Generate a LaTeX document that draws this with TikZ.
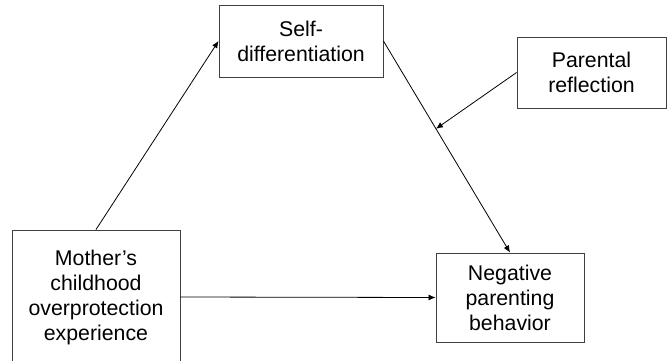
\documentclass[tikz,border=0pt]{standalone}
\usepackage{fontspec}
\setmainfont{Liberation Sans}
\usepackage{tikz}
\usetikzlibrary{arrows.meta}

\begin{document}
\begin{tikzpicture}[
		x=1pt, y=-1pt,
		every node/.style={rectangle, draw=black!75, line width=0.9pt, align=center, inner sep=0pt,
			font=\fontsize{21.3}{25}\selectfont},
		link/.style={-{Latex[length=7pt, width=6pt]}, line width=0.8pt}
	]
  \useasboundingbox (0,0) rectangle (672,361);
  \node (mother) [minimum width=168pt, minimum height=134pt] at (96, 297) {Mother’s\\childhood\\overprotection\\experience};
  \node (selfdiff) [minimum width=164pt, minimum height=72pt] at (301, 41) {Self-\\differentiation};
  \node (parental) [minimum width=149pt, minimum height=71pt] at (591.5, 72.5) {Parental\\reflection};
  \node (negative) [minimum width=148pt, minimum height=89pt] at (510, 297.5) {Negative\\parenting\\behavior};
  \path (selfdiff.east) -- (negative.north) coordinate[pos=0.415] (mod);
  \draw [link] (mother.north) -- (selfdiff.west);
  \draw [link] (selfdiff.east) -- (negative.north);
  \draw [link] (parental.west) -- (mod);
  \draw [link] (mother.east) -- (negative.west);
\end{tikzpicture}
\end{document}
